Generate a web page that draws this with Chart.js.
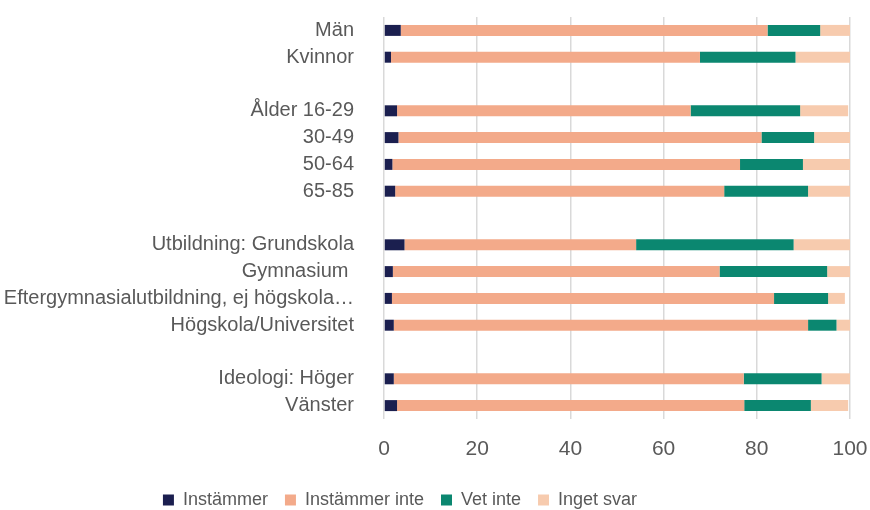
<!DOCTYPE html>
<html>
<head>
<meta charset="utf-8">
<script src="https://cdn.jsdelivr.net/npm/chart.js@4/dist/chart.umd.min.js"></script>
<style>
html,body{margin:0;padding:0;background:#fff;overflow:hidden;}
#wrap{width:870px;height:510px;}
</style>
</head>
<body>
<div id="wrap"><canvas id="c" width="870" height="510"></canvas></div>
<script>
const categories = ["Män", "Kvinnor", "", "Ålder 16-29", "30-49", "50-64", "65-85", "", "Utbildning: Grundskola", "Gymnasium ", "Eftergymnasialutbildning, ej högskola…", "Högskola/Universitet", "", "Ideologi: Höger", "Vänster"];
const seriesNames = ["Instämmer", "Instämmer inte", "Vet inte", "Inget svar"];
const instammer     = [3.6, 1.5, null, 2.8, 3.1, 1.8, 2.4, null, 4.4, 1.9, 1.7, 2.1, null, 2.1, 2.8];
const instammerInte = [78.7, 66.3, null, 63.0, 77.9, 74.6, 70.6, null, 49.7, 70.1, 82.0, 88.9, null, 75.1, 74.5];
const vetInte       = [11.3, 20.5, null, 23.5, 11.3, 13.5, 18.0, null, 33.8, 23.1, 11.6, 6.1, null, 16.7, 14.3];
const ingetSvar     = [6.4, 11.7, null, 10.3, 7.7, 10.1, 9.0, null, 12.1, 4.9, 3.6, 2.9, null, 6.1, 8.0];
const xTicks = [0, 20, 40, 60, 80, 100];

const colors = ["#1b1f4f", "#f3aa8a", "#0b8770", "#f7cbae"];
const seriesData = [instammer, instammerInte, vetInte, ingetSvar];
const FONT = "'Liberation Sans', Arial, Helvetica, sans-serif";

const shiftLegend = {
  id: 'shiftLegend',
  afterLayout(chart) {
    const lg = chart.legend;
    if (lg) { lg.left -= 35; lg.right -= 35; }
  }
};

new Chart(document.getElementById('c'), {
  type: 'bar',
  data: {
    labels: categories,
    datasets: seriesNames.map((n, i) => ({
      label: n,
      data: seriesData[i],
      backgroundColor: colors[i],
      borderWidth: 0,
      barPercentage: 0.82,
      categoryPercentage: 0.5
    }))
  },
  plugins: [shiftLegend],
  options: {
    indexAxis: 'y',
    responsive: false,
    animation: false,
    devicePixelRatio: 1,
    layout: { padding: { top: 17, right: 0, left: 0, bottom: -9 } },
    scales: {
      x: {
        stacked: true,
        min: 0, max: 100,
        afterBuildTicks: (s) => { s.ticks = xTicks.map(v => ({ value: v })); },
        afterFit: (s) => { s.height = 55; s.paddingLeft = 0; s.paddingRight = 20; },
        grid: { color: '#d9d9d9', lineWidth: 1.5, drawTicks: false },
        border: { display: false },
        ticks: { color: '#595959', font: { family: FONT, size: 21 }, padding: 18 }
      },
      y: {
        stacked: true,
        grid: { display: false },
        border: { display: false },
        afterFit: (s) => { s.width = 384; s.paddingTop = 0; s.paddingBottom = 0; },
        ticks: { color: '#595959', font: { family: FONT, size: 20 }, padding: 22, autoSkip: false }
      }
    },
    plugins: {
      tooltip: { enabled: false },
      legend: {
        position: 'bottom',
        labels: {
          color: '#595959',
          font: { family: FONT, size: 18 },
          boxWidth: 11, boxHeight: 11,
          padding: 17
        }
      }
    }
  }
});
</script>
</body>
</html>
